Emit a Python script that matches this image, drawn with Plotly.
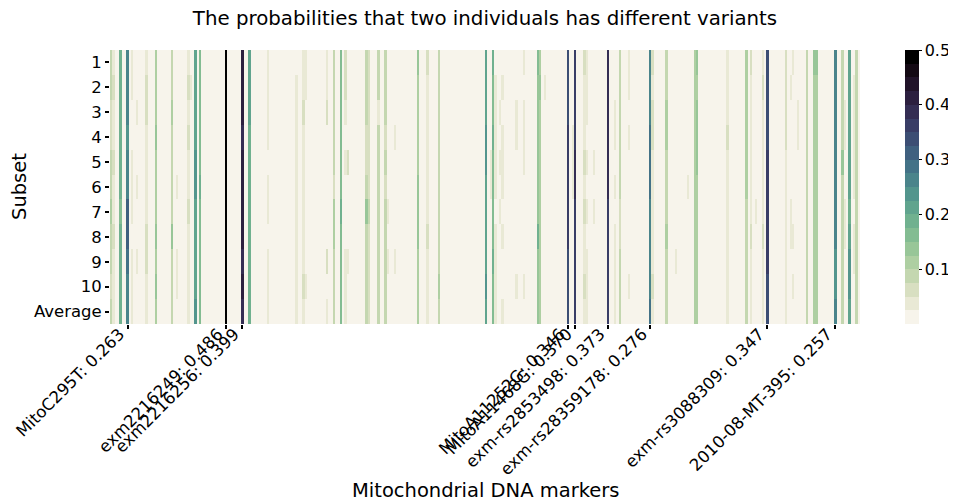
import numpy as np
import plotly.graph_objects as go

# ---------------- data ----------------
n_markers = 320
subsets = ["1", "2", "3", "4", "5", "6", "7", "8", "9", "10", "Average"]

# value levels
c, B, L = 0.01, 0.035, 0.06
G1, G2, G3, G4, G5 = 0.085, 0.11, 0.135, 0.16, 0.185
T1, T2 = 0.21, 0.235

# columns that are not background, with values for rows 1..10 and Average
marker_cols = [
    0, 1, 4, 7, 9, 11, 15, 19, 26, 28, 33, 34, 36, 38, 49, 56, 59,
    67, 79, 82, 83, 92, 95, 98, 100, 101, 109, 110, 114, 117, 118, 121,
    131, 135, 140, 160, 162, 163, 164, 166, 167, 173, 176, 182, 183, 185,
    195, 197, 198, 202, 203, 206, 212, 215, 217, 221, 230, 231, 237, 241,
    246, 249, 250, 263, 271, 273, 275, 278, 280, 288, 290, 291, 293, 297,
    300, 301, 309, 312, 313, 315, 317, 318,
]
marker_values = [
    [G1, G1, L, L, G1, G1, G2, G1, G1, L, G1],
    [B, L, B, B, L, B, B, L, B, B, B],
    [G5, G5, G5, G5, G5, G5, G4, G5, G5, G5, G5],
    [0.255, 0.255, 0.26, 0.245, 0.26, 0.255, 0.30, 0.31, 0.29, 0.26, 0.263],
    [B, B, c, c, B, B, B, c, B, B, B],
    [c, c, B, c, c, B, c, c, B, c, c],
    [B, L, L, B, B, B, B, L, L, B, B],
    [G2, G2, G2, G3, G2, G2, G2, G3, G2, G3, G2],
    [G1, G1, G2, G1, G1, G1, G1, G3, G1, G1, G1],
    [c, c, c, c, c, B, c, c, B, B, c],
    [B, L, B, L, B, B, L, B, B, B, B],
    [c, B, c, c, c, c, c, c, c, c, c],
    [0.22, 0.22, 0.22, 0.22, 0.235, 0.235, 0.22, 0.22, 0.22, 0.22, 0.225],
    [G4, G4, G4, G4, G4, G5, G4, G4, G4, G4, G4],
    [0.49, 0.48, 0.49, 0.48, 0.49, 0.49, 0.48, 0.49, 0.49, 0.48, 0.486],
    [0.40, 0.40, 0.40, 0.385, 0.40, 0.41, 0.40, 0.40, 0.39, 0.40, 0.399],
    [T1, T1, T1, G5, 0.195, 0.195, 0.195, 0.195, 0.195, 0.195, 0.195],
    [B, B, B, B, c, B, B, c, B, B, B],
    [c, B, B, B, B, B, B, B, B, B, B],
    [B, B, L, B, B, B, B, B, B, L, B],
    [B, B, c, c, c, c, c, c, c, B, c],
    [B, B, L, c, c, c, c, c, L, c, B],
    [G1, G1, G1, G1, G1, L, G2, G2, G1, G1, G1],
    [G4, G4, G4, G4, G4, G4, G5, G4, G4, G4, G4],
    [L, L, B, c, B, c, c, c, B, B, B],
    [c, c, c, c, L, c, c, c, B, c, c],
    [G1, G1, G1, L, L, G1, G3, G1, G1, G1, G1],
    [L, L, L, L, L, L, G1, L, L, L, L],
    [G1, G1, B, G1, G1, G1, G1, G1, G1, G1, G1],
    [G1, G1, G1, L, G1, L, G1, G1, G1, G1, G1],
    [c, c, c, c, c, c, B, c, B, c, c],
    [c, c, c, B, c, c, c, c, B, c, c],
    [G3, G2, G2, G2, G2, G3, G3, G3, G2, G2, G2],
    [L, B, B, B, B, B, B, L, B, B, B],
    [G1, G1, G1, G1, G1, G1, G1, G1, G1, G2, G1],
    [T1, T1, T1, T2, T2, T1, T1, T1, T1, T2, T1],
    [c, c, c, c, B, B, c, c, c, c, c],
    [G5, G4, G4, G5, G4, G4, G4, G4, G5, G4, G4],
    [c, B, B, B, B, B, c, B, B, B, B],
    [c, c, B, c, B, c, B, c, c, c, c],
    [c, B, c, B, B, B, c, B, c, c, B],
    [c, c, B, B, c, c, c, c, c, B, c],
    [B, c, B, B, B, c, c, c, c, B, c],
    [G4, G3, G3, G3, G3, G3, G3, G5, G3, G3, G3],
    [G2, G3, G2, G2, G2, G2, G2, G2, G2, G2, G2],
    [c, B, c, c, c, c, c, c, c, c, c],
    [0.34, 0.34, 0.34, 0.36, 0.36, 0.36, 0.35, 0.35, 0.34, 0.34, 0.346],
    [c, c, c, B, B, B, c, c, c, c, c],
    [0.37, 0.37, 0.37, 0.37, 0.39, 0.38, 0.37, 0.37, 0.36, 0.37, 0.370],
    [L, B, B, B, L, B, L, B, B, L, B],
    [B, B, B, c, B, c, B, c, B, B, B],
    [c, c, c, c, B, c, B, c, c, c, c],
    [0.38, 0.38, 0.38, 0.38, 0.38, 0.38, 0.36, 0.37, 0.37, 0.37, 0.373],
    [c, c, B, B, c, B, c, B, B, B, B],
    [G1, G1, G1, G1, G1, G1, L, L, G1, G1, G1],
    [B, B, c, B, c, c, c, c, c, B, c],
    [0.27, 0.27, 0.27, 0.29, 0.29, 0.29, 0.27, 0.27, 0.27, 0.27, 0.276],
    [L, B, L, L, B, B, B, B, B, L, B],
    [G1, G1, G2, G2, G1, G1, G1, G2, G1, G1, G1],
    [c, c, c, c, c, c, c, c, B, c, c],
    [c, c, c, c, c, B, c, c, c, c, c],
    [G2, G2, G2, G2, G2, G2, G2, G2, G2, G2, G2],
    [G3, G2, G3, G3, G3, G2, G2, G2, G2, G2, G2],
    [B, B, B, L, B, B, B, B, B, B, B],
    [G2, G2, G2, G2, G2, G2, G1, G1, G1, G1, G1],
    [L, B, B, B, B, B, B, L, B, B, B],
    [c, c, c, c, c, c, B, c, c, c, c],
    [B, L, B, B, B, B, B, L, B, B, B],
    [0.34, 0.34, 0.34, 0.34, 0.37, 0.37, 0.36, 0.36, 0.35, 0.34, 0.347],
    [L, L, L, L, B, B, B, B, B, B, B],
    [c, B, c, c, c, c, B, B, c, c, c],
    [B, c, c, c, c, c, c, B, c, B, c],
    [c, c, B, B, c, c, c, c, c, c, c],
    [G1, G1, G1, G1, G1, G1, G1, G1, G1, G1, G1],
    [G3, G2, G2, G2, G2, G2, G2, G2, G2, G2, G2],
    [G3, G2, G2, G2, G2, G2, G2, G2, G2, G2, G2],
    [0.26, 0.26, 0.26, 0.26, 0.26, 0.26, 0.26, 0.26, 0.24, 0.24, 0.257],
    [G1, G1, G1, G1, G3, G1, G1, G1, G1, G1, G1],
    [c, c, B, B, c, c, B, B, c, c, c],
    [T1, T1, T1, T1, T1, T1, G5, T1, T2, T2, T1],
    [c, B, B, B, B, B, c, B, B, c, c],
    [G1, G1, G1, G1, G1, G1, G1, G1, G1, G1, G1],
]

label_cols = [7, 49, 56, 195, 198, 212, 230, 280, 309]
label_names = ["MitoC295T", "exm2216249", "exm2216256", "MitoA11252G", "MitoA11468G",
               "exm-rs2853498", "exm-rs28359178", "exm-rs3088309", "2010-08-MT-395"]
label_avgs = [0.263, 0.486, 0.399, 0.346, 0.370, 0.373, 0.276, 0.347, 0.257]

cbar_ticks = [0.1, 0.2, 0.3, 0.4, 0.5]

# ---------------- build matrix ----------------
z = np.full((len(subsets), n_markers), c)
for col, vals in zip(marker_cols, marker_values):
    z[:, col] = vals

# ---------------- discrete cubehelix colour scale (20 bands) ----------------
def cubehelix(n, start=0.5, rot=-0.75, gamma=1.0, hue=0.8, light=0.955, dark=0.0):
    xs = np.linspace(light, dark, n)
    out = []
    for x in xs:
        xg = x ** gamma
        a = hue * xg * (1 - xg) / 2
        phi = 2 * np.pi * (start / 3 + rot * x)
        r = xg + a * (-0.14861 * np.cos(phi) + 1.78277 * np.sin(phi))
        g = xg + a * (-0.29227 * np.cos(phi) - 0.90649 * np.sin(phi))
        b = xg + a * (1.97294 * np.cos(phi))
        rgb = [int(round(255 * min(max(v, 0), 1))) for v in (r, g, b)]
        out.append("rgb(%d,%d,%d)" % tuple(rgb))
    return out

nb = 20
cols = cubehelix(nb)
colorscale = []
for i, col in enumerate(cols):
    colorscale.append([i / nb, col])
    colorscale.append([(i + 1) / nb, col])

font = "DejaVu Sans"

# the page body adds an 8 px offset; the figure is sized to fit the window
W, H = 948, 494
ML, MR, MT, MB = 102, 96, 42, 178
plot_w = W - ML - MR
plot_h = H - MT - MB

fig = go.Figure(go.Heatmap(
    z=z,
    x=list(range(n_markers)),
    y=subsets,
    zmin=0.0,
    zmax=0.5,
    colorscale=colorscale,
    zsmooth=False,
    colorbar=dict(
        x=(897 - ML) / plot_w, xanchor="left", xpad=0, ypad=0,
        y=0.5, yanchor="middle", len=1.0, lenmode="fraction",
        thickness=14, outlinewidth=0,
        tickmode="array", tickvals=cbar_ticks,
        ticktext=["%.1f" % t for t in cbar_ticks],
        ticks="outside", ticklen=3, tickwidth=1.2, tickcolor="black",
        tickfont=dict(family=font, size=16, color="black"),
    ),
))

fig.update_layout(
    width=W, height=H,
    margin=dict(l=ML, r=MR, t=MT, b=MB, autoexpand=False),
    paper_bgcolor="white", plot_bgcolor="white",
    font=dict(family=font, color="black"),
    title=dict(
        text="The probabilities that two individuals has different variants",
        x=0.5, xref="paper", y=1 - 10 / H, yref="container",
        xanchor="center", yanchor="middle",
        font=dict(family=font, size=19.8, color="black"),
    ),
    xaxis=dict(
        range=[-0.5, n_markers - 0.5],
        tickmode="array", tickvals=label_cols,
        ticktext=["%s: %.3f" % (n, v) for n, v in zip(label_names, label_avgs)],
        tickangle=-45, ticks="outside", ticklen=4, tickwidth=1.5, tickcolor="black",
        tickfont=dict(family=font, size=16.5, color="black"),
        ticklabelshift=-8, ticklabelstandoff=-11,
        showgrid=False, zeroline=False, showline=False, automargin=False,
    ),
    yaxis=dict(
        autorange="reversed",
        ticks="outside", ticklen=4, tickwidth=1.5, tickcolor="black",
        tickfont=dict(family=font, size=16.5, color="black"),
        showgrid=False, zeroline=False, showline=False, automargin=False,
    ),
    annotations=[
        dict(text="Mitochondrial DNA markers", xref="paper", yref="paper",
             x=0.5, y=-(482 - (H - MB)) / plot_h, xanchor="center", yanchor="middle",
             showarrow=False, font=dict(family=font, size=19.5, color="black")),
        dict(text="Subset", xref="paper", yref="paper", textangle=-90,
             x=(11 - ML) / plot_w, y=0.5, xanchor="center", yanchor="middle",
             showarrow=False, font=dict(family=font, size=19.5, color="black")),
    ],
)

fig.write_html("out.html")
